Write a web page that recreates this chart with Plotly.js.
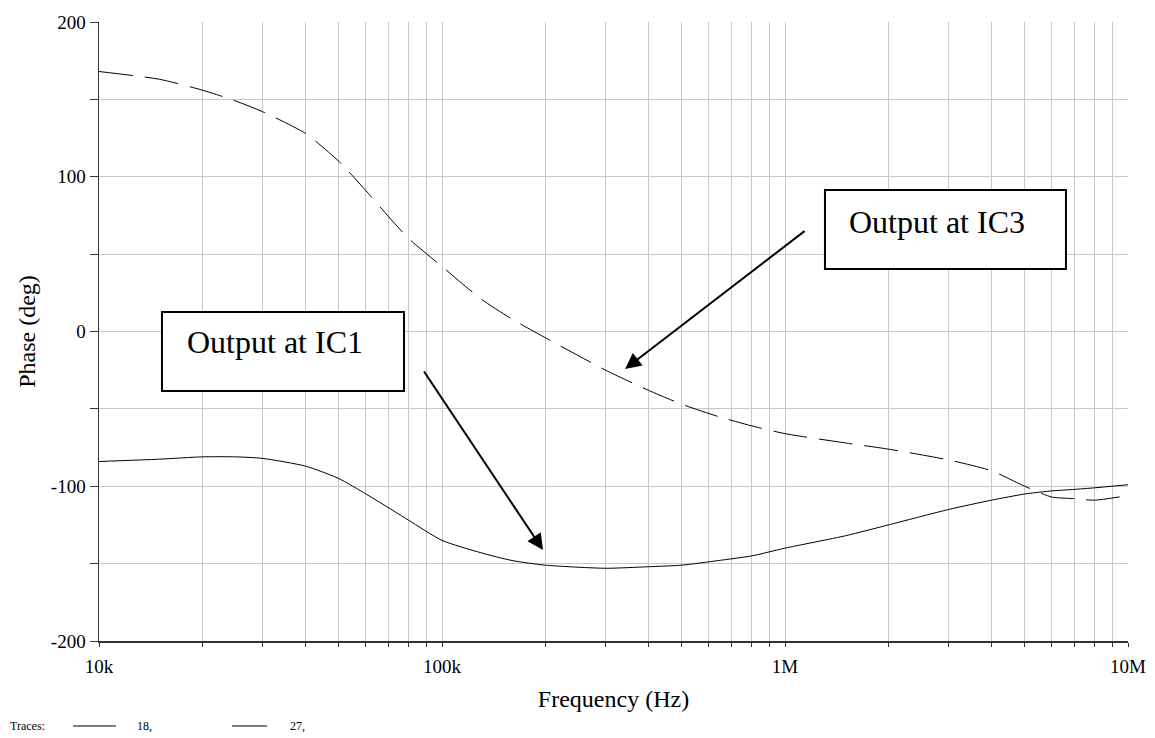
<!DOCTYPE html>
<html>
<head>
<meta charset="utf-8">
<script src="https://cdn.plot.ly/plotly-3.0.1.min.js"></script>
<style>html,body{margin:0;padding:0;background:#fff;}#chart{width:1155px;height:738px;}</style>
</head>
<body>
<div id="chart"></div>
<script>
// Frequency points (Hz)
const freqHz = [10e3, 15e3, 20e3, 25e3, 30e3, 40e3, 50e3, 60e3, 70e3, 80e3, 100e3, 130e3, 160e3, 200e3, 300e3, 400e3, 500e3, 640e3, 800e3, 1e6, 1.5e6, 2e6, 3e6, 4e6, 5e6, 6e6, 7e6, 8e6, 10e6];
// Phase at IC1 output (solid trace, 18)
const phaseIC1 = [-84, -82.5, -81, -81, -82, -87, -95, -105, -114, -122, -135, -143, -148, -151, -153, -152, -151, -148, -145, -140, -132, -125, -115, -109, -105, -103, -102, -101, -99];
// Phase at IC3 output (dashed trace, 27)
const phaseIC3 = [168, 163, 156, 149, 142, 128, 110, 91, 74, 60, 42, 21, 8, -4, -25, -38, -47, -55, -61, -66, -72, -76, -83, -90, -100, -107, -108, -109, -106];

// Axis ticks
const xTickVals = [1e4,2e4,3e4,4e4,5e4,6e4,7e4,8e4,9e4,1e5,2e5,3e5,4e5,5e5,6e5,7e5,8e5,9e5,1e6,2e6,3e6,4e6,5e6,6e6,7e6,8e6,9e6,1e7];
const xTickText = ['10k','','','','','','','','','100k','','','','','','','','','1M','','','','','','','','','10M'];
const yTickVals = [-200,-150,-100,-50,0,50,100,150,200];
const yTickText = ['-200','','-100','','0','','100','','200'];

// Labels
const labelIC1 = 'Output at IC1';
const labelIC3 = 'Output at IC3';
const traceNames = ['18,', '27,'];

const FONT = '"Liberation Serif", "Times New Roman", serif';

const traces = [
  {x: freqHz, y: phaseIC1, type: 'scatter', mode: 'lines', name: traceNames[0],
   line: {color: '#000', width: 1, shape: 'spline', smoothing: 0.6}, showlegend: false},
  {x: freqHz, y: phaseIC3, type: 'scatter', mode: 'lines', name: traceNames[1],
   line: {color: '#000', width: 1, dash: '34px,12px', shape: 'spline', smoothing: 0.6}, showlegend: false}
];

const layout = {
  width: 1155, height: 738,
  margin: {l: 99, r: 27, t: 22, b: 97},
  paper_bgcolor: '#fff', plot_bgcolor: '#fff',
  font: {family: FONT, color: '#000'},
  xaxis: {
    type: 'log', range: [4, 7],
    tickvals: xTickVals, ticktext: xTickText,
    ticks: 'outside', ticklen: 4, tickcolor: '#333', tickwidth: 1,
    ticklabelstandoff: 4,
    showgrid: true, gridcolor: '#c8c8c8', gridwidth: 1,
    showline: true, linecolor: '#333', linewidth: 1.5,
    zeroline: false, mirror: false,
    tickfont: {family: FONT, size: 19, color: '#000'},
    title: {text: 'Frequency (Hz)', font: {family: FONT, size: 24, color: '#000'}, standoff: 14},
    automargin: false
  },
  yaxis: {
    range: [-200, 200],
    tickvals: yTickVals, ticktext: yTickText,
    ticks: 'outside', ticklen: 8, tickcolor: '#333', tickwidth: 1,
    showgrid: true, gridcolor: '#c8c8c8', gridwidth: 1,
    showline: true, linecolor: '#333', linewidth: 1.5,
    zeroline: false, mirror: false,
    tickfont: {family: FONT, size: 19, color: '#000'},
    title: {text: 'Phase (deg)', font: {family: FONT, size: 24, color: '#000'}, standoff: 8},
    automargin: false
  },
  shapes: [
    // label boxes
    {type: 'rect', xref: 'paper', yref: 'paper', x0: 0.0612, x1: 0.2964, y0: 0.4039, y1: 0.5315,
     line: {color: '#000', width: 2}, fillcolor: '#fff', layer: 'above'},
    {type: 'rect', xref: 'paper', yref: 'paper', x0: 0.7055, x1: 0.9397, y0: 0.601, y1: 0.7286,
     line: {color: '#000', width: 2}, fillcolor: '#fff', layer: 'above'},
    // bottom trace key lines
    {type: 'line', xref: 'paper', yref: 'paper', x0: -0.0253, x1: 0.0165, y0: -0.1373, y1: -0.1373,
     line: {color: '#000', width: 1}},
    {type: 'line', xref: 'paper', yref: 'paper', x0: 0.1293, x1: 0.1633, y0: -0.1373, y1: -0.1373,
     line: {color: '#000', width: 1}}
  ],
  annotations: [
    {xref: 'paper', yref: 'paper', x: 0.0836, y: 0.483, xanchor: 'left', yanchor: 'middle',
     text: labelIC1, showarrow: false, font: {family: FONT, size: 32, color: '#000'}},
    {xref: 'paper', yref: 'paper', x: 0.7269, y: 0.6769, xanchor: 'left', yanchor: 'middle',
     text: labelIC3, showarrow: false, font: {family: FONT, size: 32, color: '#000'}},
    // arrows
    {xref: 'paper', yref: 'paper', x: 0.5112, y: 0.4394, ax: 181, ay: -139, axref: 'pixel', ayref: 'pixel',
     text: '', showarrow: true, arrowhead: 2, arrowsize: 1.6, arrowwidth: 2, arrowcolor: '#000', standoff: 0},
    {xref: 'paper', yref: 'paper', x: 0.4315, y: 0.147, ax: -120, ay: -180, axref: 'pixel', ayref: 'pixel',
     text: '', showarrow: true, arrowhead: 2, arrowsize: 1.6, arrowwidth: 2, arrowcolor: '#000', standoff: 0},
    // bottom trace key text
    {xref: 'paper', yref: 'paper', x: -0.0884, y: -0.1373, xanchor: 'left', yanchor: 'middle',
     text: 'Traces:', showarrow: false, font: {family: FONT, size: 12, color: '#000'}},
    {xref: 'paper', yref: 'paper', x: 0.035, y: -0.1373, xanchor: 'left', yanchor: 'middle',
     text: traceNames[0], showarrow: false, font: {family: FONT, size: 12, color: '#000'}},
    {xref: 'paper', yref: 'paper', x: 0.1837, y: -0.1373, xanchor: 'left', yanchor: 'middle',
     text: traceNames[1], showarrow: false, font: {family: FONT, size: 12, color: '#000'}}
  ]
};

Plotly.newPlot('chart', traces, layout, {displayModeBar: false, staticPlot: true});
</script>
</body>
</html>
